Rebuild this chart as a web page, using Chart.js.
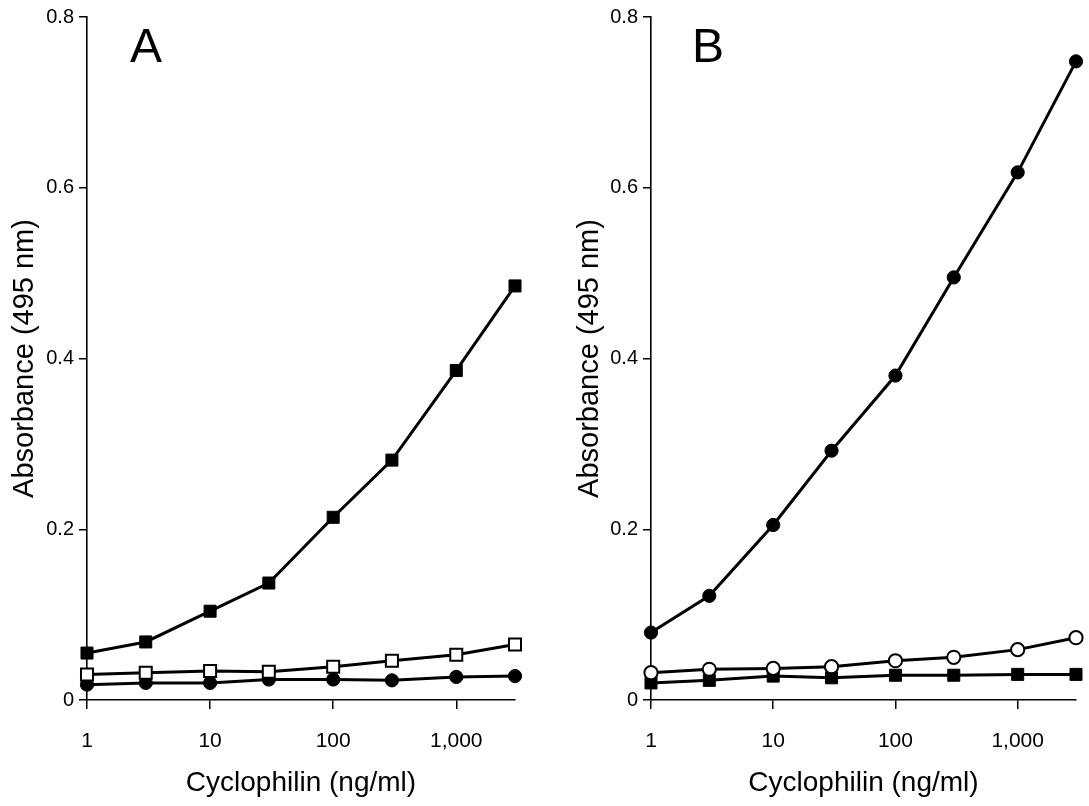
<!DOCTYPE html>
<html>
<head>
<meta charset="utf-8">
<script src="https://cdn.jsdelivr.net/npm/chart.js@4.4.1/dist/chart.umd.min.js"></script>
<style>
  html, body { margin: 0; padding: 0; background: #fff; }
  body { width: 1089px; height: 806px; position: relative; overflow: hidden; }
  .panel { position: absolute; top: 0; height: 806px; }
  .letter {
    position: absolute; top: 22px; font: 48px 'Liberation Sans', Arial, sans-serif;
    line-height: 1; color: #000;
  }
</style>
</head>
<body>
<div class="panel" style="left:0;width:545px"><canvas id="chartA"></canvas></div>
<div class="panel" style="left:545px;width:544px"><canvas id="chartB"></canvas></div>
<div class="letter" style="left:130px">A</div>
<div class="letter" style="left:692px">B</div>
<script>
// cyclophilin dose (ng/ml)
const doses = [1, 3, 10, 30, 100, 300, 1000, 3000];

// panel A
const aFilledSquare = [0.055, 0.068, 0.104, 0.137, 0.214, 0.281, 0.386, 0.485];
const aOpenSquare = [0.030, 0.032, 0.034, 0.033, 0.039, 0.046, 0.053, 0.065];
const aFilledCircle = [0.018, 0.020, 0.020, 0.024, 0.024, 0.023, 0.027, 0.028];

// panel B
const bFilledCircle = [0.079, 0.122, 0.205, 0.292, 0.380, 0.495, 0.618, 0.748];
const bOpenCircle = [0.032, 0.036, 0.037, 0.039, 0.046, 0.050, 0.059, 0.073];
const bFilledSquare = [0.020, 0.023, 0.028, 0.026, 0.029, 0.029, 0.030, 0.030];

const xTicks = [1, 10, 100, 1000];
const yTicks = [0, 0.2, 0.4, 0.6, 0.8];
const xTitle = 'Cyclophilin (ng/ml)';
const yTitle = 'Absorbance (495 nm)';

const FONT = "'Liberation Sans', Arial, sans-serif";

function series(values, style, filled) {
  const isRect = style === 'rect';
  return {
    data: doses.map((d, i) => ({ x: d, y: values[i] })),
    borderColor: '#000',
    borderWidth: 3,
    pointStyle: style,
    pointRadius: isRect ? 8.5 : 6.6,
    pointBackgroundColor: filled ? '#000' : '#fff',
    pointBorderColor: '#000',
    pointBorderWidth: filled ? 1 : 2,
    tension: 0,
    clip: false,
  };
}

function makePanel(canvasId, datasets, yWidth, yTitlePad, rightPad) {
  const ctx = document.getElementById(canvasId);
  return new Chart(ctx.getContext('2d'), {
    type: 'line',
    data: { datasets: datasets },
    options: {
      responsive: true,
      maintainAspectRatio: false,
      animation: false,
      layout: { padding: { left: 0, right: rightPad, top: 16, bottom: 0 } },
      plugins: { legend: { display: false }, tooltip: { enabled: false } },
      scales: {
        x: {
          type: 'logarithmic',
          min: 1,
          max: 3000,
          afterBuildTicks: (s) => {
            s.ticks = xTicks.map((v) => ({ value: v }));
          },
          afterFit: (s) => {
            s.height = 106;
          },
          ticks: {
            autoSkip: false,
            maxRotation: 0,
            padding: 20,
            color: '#000',
            font: { family: FONT, size: 21 },
            callback: (v) => Number(v).toLocaleString('en-US'),
          },
          grid: { drawOnChartArea: false, drawTicks: true, tickLength: 9, color: '#000', lineWidth: 1.5 },
          border: { display: true, color: '#000', width: 1.6 },
          title: {
            display: true,
            text: xTitle,
            color: '#000',
            font: { family: FONT, size: 28 },
            padding: { top: 0, bottom: 6 },
          },
        },
        y: {
          min: 0,
          max: 0.8,
          afterBuildTicks: (s) => {
            s.ticks = yTicks.map((v) => ({ value: v }));
          },
          afterFit: (s) => {
            s.width = yWidth;
          },
          ticks: {
            padding: 5,
            color: '#000',
            font: { family: FONT, size: 20 },
            callback: (v) => (v === 0 ? '0' : Number(v).toFixed(1)),
          },
          grid: { drawOnChartArea: false, drawTicks: true, tickLength: 8, color: '#000', lineWidth: 1.5 },
          border: { display: true, color: '#000', width: 1.6 },
          title: {
            display: true,
            text: yTitle,
            color: '#000',
            font: { family: FONT, size: 29 },
            padding: { top: yTitlePad, bottom: 0 },
          },
        },
      },
    },
  });
}

document.addEventListener('DOMContentLoaded', () => {
  makePanel('chartA', [
    series(aFilledSquare, 'rect', true),
    series(aOpenSquare, 'rect', false),
    series(aFilledCircle, 'circle', true),
  ], 87, 8, 30);

  makePanel('chartB', [
    series(bFilledCircle, 'circle', true),
    series(bOpenCircle, 'circle', false),
    series(bFilledSquare, 'rect', true),
  ], 106, 28, 13);
});
</script>
</body>
</html>
